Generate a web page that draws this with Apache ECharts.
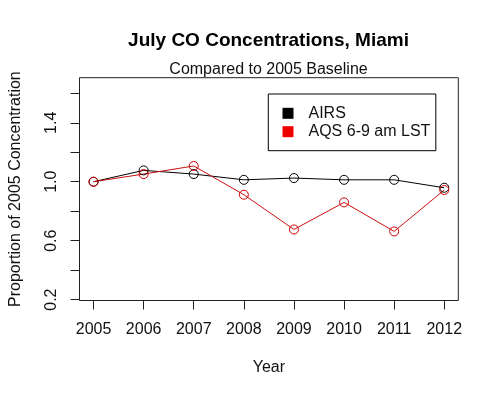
<!DOCTYPE html>
<html>
<head>
<meta charset="utf-8">
<script src="https://cdn.jsdelivr.net/npm/echarts@6/dist/echarts.min.js"></script>
<style>html,body{margin:0;padding:0;background:#fff}#c{width:499px;height:398px}</style>
</head>
<body>
<div id="c"></div>
<script>
const years = [2005, 2006, 2007, 2008, 2009, 2010, 2011, 2012];
const airs = [1.0, 1.077, 1.052, 1.013, 1.025, 1.013, 1.013, 0.959];
const aqs = [1.0, 1.052, 1.107, 0.912, 0.676, 0.860, 0.663, 0.944];
const yTicks = [0.2, 0.4, 0.6, 0.8, 1.0, 1.2, 1.4, 1.6];
const yLabels = [0.2, 0.6, 1.0, 1.4];
const seriesNames = ['AIRS', 'AQS 6-9 am LST'];

const font = 'Liberation Sans, Arial, sans-serif';
const chart = echarts.init(document.getElementById('c'), null, {renderer: 'canvas'});
chart.setOption({
  animation: false,
  backgroundColor: '#fff',
  title: [
    {text: 'July CO Concentrations, Miami', left: 268.5, top: 30.5, textAlign: 'center', padding: 0,
     textStyle: {fontFamily: font, fontSize: 19, fontWeight: 'bold', color: '#000', lineHeight: 20}},
    {text: 'Compared to 2005 Baseline', left: 268.5, top: 61.5, textAlign: 'center', padding: 0,
     textStyle: {fontFamily: font, fontSize: 16, fontWeight: 'normal', color: '#111', lineHeight: 16}}
  ],
  grid: {left: 78.5, right: 40.7, top: 77.7, bottom: 97.5, show: true, borderColor: '#222', borderWidth: 1, backgroundColor: 'transparent'},
  legend: {
    orient: 'vertical', left: 268.3, top: 94,
    borderColor: '#000', borderWidth: 1, borderRadius: 0,
    padding: [11.3, 5.5, 11, 14.2],
    itemWidth: 11, itemHeight: 11, itemGap: 2.4,
    textStyle: {fontFamily: font, fontSize: 16, color: '#111', lineHeight: 16, padding: [0, 0, 0, 10]},
    data: [
      {name: seriesNames[0], icon: 'rect', itemStyle: {color: '#000', borderWidth: 0}},
      {name: seriesNames[1], icon: 'rect', itemStyle: {color: '#ee0000', borderWidth: 0}}
    ]
  },
  xAxis: {
    type: 'value', min: 2004.72, max: 2012.28,
    name: 'Year', nameLocation: 'middle', nameGap: 59,
    nameTextStyle: {fontFamily: font, fontSize: 16, color: '#111', lineHeight: 16},
    axisLine: {show: false},
    splitLine: {show: false},
    axisTick: {show: true, inside: false, length: 9, customValues: years, lineStyle: {color: '#222'}},
    axisLabel: {customValues: years, margin: 21, fontFamily: font, fontSize: 16, color: '#111', lineHeight: 16,
                formatter: v => String(Math.round(v))}
  },
  yAxis: {
    type: 'value', min: 0.194, max: 1.706,
    name: 'Proportion of 2005 Concentration', nameLocation: 'middle', nameGap: 55.5,
    nameTextStyle: {fontFamily: font, fontSize: 16, color: '#111', lineHeight: 16},
    axisLine: {show: false},
    splitLine: {show: false},
    axisTick: {show: true, inside: false, length: 9, customValues: yTicks, lineStyle: {color: '#222'}},
    axisLabel: {customValues: yLabels, rotate: 90, margin: 20, fontFamily: font, fontSize: 16, color: '#111', lineHeight: 16,
                formatter: v => v.toFixed(1)}
  },
  series: [
    {name: seriesNames[0], type: 'line', data: years.map((y, i) => [y, airs[i]]),
     symbol: 'circle', symbolSize: 9, color: '#000',
     lineStyle: {color: '#000', width: 1},
     itemStyle: {color: 'rgba(0,0,0,0)', borderColor: '#000', borderWidth: 1}},
    {name: seriesNames[1], type: 'line', data: years.map((y, i) => [y, aqs[i]]),
     symbol: 'circle', symbolSize: 9, color: '#d00000',
     lineStyle: {color: '#c81010', width: 1},
     itemStyle: {color: 'rgba(0,0,0,0)', borderColor: '#d00000', borderWidth: 1}}
  ]
});
</script>
</body>
</html>
